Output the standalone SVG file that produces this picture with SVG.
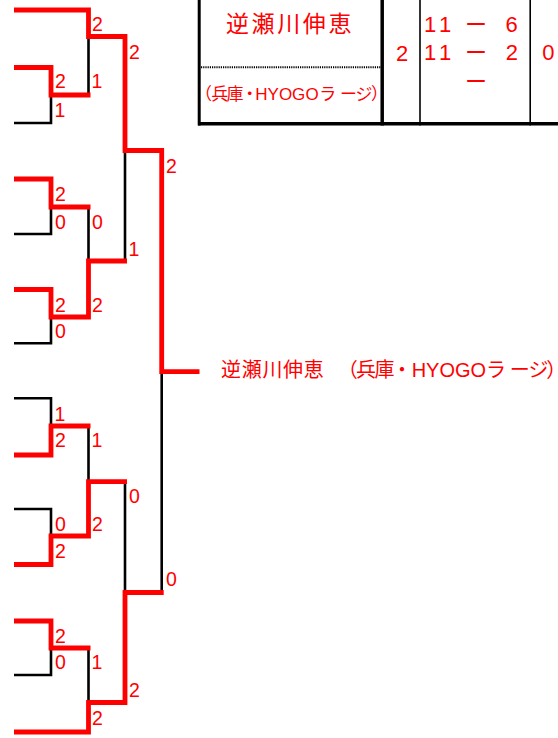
<svg xmlns="http://www.w3.org/2000/svg" width="558" height="738" viewBox="0 0 558 738">
<style>
.blk{fill:none;stroke:#000;stroke-width:2.6;stroke-linejoin:miter;stroke-linecap:butt}
.red{fill:none;stroke:#FF0000;stroke-width:4.8;stroke-linejoin:miter;stroke-linecap:butt}
.sc{font-family:"Liberation Sans",Arial,sans-serif;font-size:19.5px;fill:#FF0000}
.jp{font-family:"Liberation Sans","Noto Sans CJK JP",sans-serif;fill:#FF0000;font-feature-settings:"palt" 1}
.num{font-family:"Liberation Sans",Arial,"Noto Sans CJK JP",sans-serif;font-size:22px;fill:#FF0000}
.tl{stroke:#000;fill:none}
</style>
<rect width="558" height="738" fill="#fff"/>
<g id="table">
  <line class="tl" x1="199.2" y1="0" x2="199.2" y2="125.5" stroke-width="3"/>
  <line class="tl" x1="382.2" y1="0" x2="382.2" y2="125.5" stroke-width="3.5"/>
  <line class="tl" x1="420" y1="0" x2="420" y2="125.5" stroke-width="1.6"/>
  <line class="tl" x1="530.2" y1="0" x2="530.2" y2="125.5" stroke-width="1.6"/>
  <line class="tl" x1="198" y1="123.7" x2="558" y2="123.7" stroke-width="3.5"/>
  <line class="tl" x1="201" y1="67.3" x2="381" y2="67.3" stroke-width="2" stroke-dasharray="1.2 1"/>
  <text class="jp" font-size="23" y="31.7" x="226 251.6 277.2 302.8 328.4">逆瀬川伸恵</text>
  <text class="jp" font-size="17" y="100" x="202.8 211.2 226.5 245.5 255.3 267.6 278.9 292.1 305.4 320.5 340 355.5 371.5">（兵庫・HYOGOラージ）</text>
  <text class="num" x="396" y="61">2</text>
  <text class="num" y="32.3" x="424 439 455 465 490 505.5">11 ー 6</text>
  <text class="num" y="60" x="424 439 455 465 490 505.8">11 ー 2</text>
  <text class="num" x="465" y="89.3">ー</text>
  <text class="num" x="542.3" y="60">0</text>
</g>
<g id="connectors">
  <path class="blk" d="M14 123 H51 V95"/>
  <path class="blk" d="M14 234 H51 V207"/>
  <path class="blk" d="M14 343.3 H51 V317"/>
  <path class="blk" d="M14 398.3 H51 V426"/>
  <path class="blk" d="M14 509 H51 V536"/>
  <path class="blk" d="M14 675 H51 V648"/>
  <path class="blk" d="M88.5 95 V36.5"/>
  <path class="blk" d="M88.5 207 V261"/>
  <path class="blk" d="M88.5 426 V481.7"/>
  <path class="blk" d="M88.5 648 V702.5"/>
  <path class="blk" d="M125 261 V150.5"/>
  <path class="blk" d="M125 481.7 V592.5"/>
  <path class="blk" d="M161.7 592.5 V371.7"/>
  <path class="red" d="M14 10 H88.5 V36.5 H125 V150.5 H161.7 V371.7 H199.5"/>
  <path class="red" d="M14 67.5 H51 V95 H90.5"/>
  <path class="red" d="M14 179 H51 V207 H90.5"/>
  <path class="red" d="M14 289.5 H51 V317 H88.5 V261 H127"/>
  <path class="red" d="M14 455 H51 V426 H90.5"/>
  <path class="red" d="M14 564.5 H51 V536 H88.5 V481.7 H127"/>
  <path class="red" d="M14 621 H51 V648 H90.5"/>
  <path class="red" d="M14 732 H88.5 V702.5 H125 V592.5 H163.7"/>
</g>
<g id="scores">
  <text class="sc" x="92" y="30.5">2</text>
  <text class="sc" x="129" y="59">2</text>
  <text class="sc" x="55" y="88">2</text>
  <text class="sc" x="91.5" y="88">1</text>
  <text class="sc" x="54.5" y="117">1</text>
  <text class="sc" x="166" y="172.7">2</text>
  <text class="sc" x="55" y="200.7">2</text>
  <text class="sc" x="55" y="229">0</text>
  <text class="sc" x="92" y="229">0</text>
  <text class="sc" x="128.5" y="256">1</text>
  <text class="sc" x="55" y="311.7">2</text>
  <text class="sc" x="92" y="311.7">2</text>
  <text class="sc" x="55" y="338">0</text>
  <text class="sc" x="54.5" y="420.7">1</text>
  <text class="sc" x="55" y="447.3">2</text>
  <text class="sc" x="91.5" y="447.3">1</text>
  <text class="sc" x="129" y="503.3">0</text>
  <text class="sc" x="55" y="530.7">0</text>
  <text class="sc" x="92" y="530.7">2</text>
  <text class="sc" x="55" y="558.3">2</text>
  <text class="sc" x="166" y="585.7">0</text>
  <text class="sc" x="55" y="642.7">2</text>
  <text class="sc" x="55" y="669.3">0</text>
  <text class="sc" x="91.5" y="669.3">1</text>
  <text class="sc" x="129" y="697.3">2</text>
  <text class="sc" x="92" y="725">2</text>
</g>
<g id="winner">
  <text class="jp" font-size="20" y="377" x="221 241.7 262.4 283.1 303.8 326 347 356 374.5 397 411.7 426.1 439.5 455 470.6 487.5 510 528.5 547">逆瀬川伸恵　（兵庫・HYOGOラージ）</text>
</g>
</svg>
